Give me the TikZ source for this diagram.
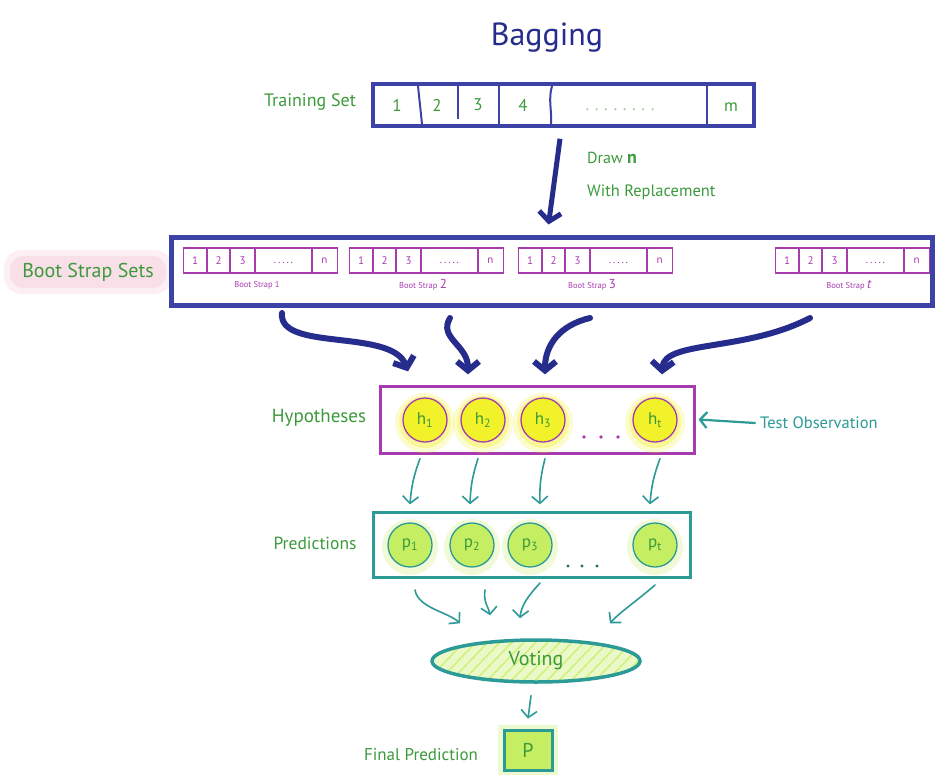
\documentclass[tikz,border=0pt]{standalone}
\usepackage{fontspec}
\setmainfont{PT Sans}
\usetikzlibrary{arrows.meta,shapes.geometric,calc}

\definecolor{navy}{HTML}{252C8C}
\definecolor{navybox}{HTML}{3D43A6}
\definecolor{leaf}{HTML}{3C9A3C}
\definecolor{plum}{HTML}{A83CAE}
\definecolor{tealc}{HTML}{2C9A96}
\definecolor{sun}{HTML}{F2F22A}
\definecolor{lime}{HTML}{C6EE62}
\definecolor{blush}{HTML}{F8CFDB}

\tikzset{
  lbl/.style={text=leaf, font=\fontsize{18}{20}\selectfont, inner sep=0pt},
  celltxt/.style={text=leaf, font=\fontsize{17}{19}\selectfont, inner sep=0pt},
  smallcell/.style={text=plum, font=\fontsize{11}{13}\selectfont, inner sep=0pt},
  strapbox/.style={draw=plum, line width=1.1pt, minimum width=154pt, minimum height=25pt, inner sep=0pt},
  straplbl/.style={text=plum, font=\fontsize{8.5}{10}\selectfont, inner sep=0pt},
  hypcirc/.style={circle, draw=plum, line width=1.3pt, fill=sun, minimum size=44pt, inner sep=0pt,
                  text=leaf, font=\fontsize{17}{19}\selectfont},
  predcirc/.style={circle, draw=tealc, line width=1.3pt, fill=lime, minimum size=44pt, inner sep=0pt,
                  text=leaf, font=\fontsize{17}{19}\selectfont},
  bigarrow/.style={draw=navy, line width=6pt, line cap=round,
                   -{Straight Barb[length=9pt,width=22pt]}},
  tarrow/.style={draw=tealc, line width=1.6pt, line cap=round,
                 -{Straight Barb[length=7pt,width=16pt]}},
}

% one bootstrap sample: box with five cells and a caption
\newcommand{\strapsample}[3]{%
  \node[strapbox, anchor=west] (#1) at (#2,260.5) {};
  \foreach \d in {24,47,72,129}
    \draw[plum, line width=1.1pt] ({#2+\d},248) -- ({#2+\d},273);
  \node[smallcell] at ({#2+12},261) {1};
  \node[smallcell] at ({#2+35.5},261) {2};
  \node[smallcell] at ({#2+59.5},261) {3};
  \node[smallcell] at ({#2+100.5},263) {.\,.\,.\,.\,.};
  \node[smallcell] at ({#2+141.5},261) {n};
  \node[straplbl] at ({#2+74},285) {#3};
}

\begin{document}
\begin{tikzpicture}[x=1pt,y=-1pt]
\path[use as bounding box, fill=white] (0,0) rectangle (936,776);

% title
\node[text=navy, font=\fontsize{32}{36}\selectfont] (title) at (547,38) {Bagging};

% training set
\node[lbl] (trainlbl) at (310,102) {Training Set};
\node[draw=navybox, line width=3.5pt, minimum width=381pt, minimum height=42pt, inner sep=0pt]
  (train) at (563.5,105) {};
\draw[navybox, line width=2pt] (418,86) -- (422,124);
\draw[navybox, line width=2pt] (458,86) -- (458,119);
\draw[navybox, line width=2pt] (499,86) -- (499,124);
\draw[navybox, line width=2pt] (552,86) .. controls (548,100) and (552,110) .. (551,124);
\draw[navybox, line width=2pt] (707,86) -- (707,124);
\node[celltxt] (c1) at (397,105) {1};
\node[celltxt] (c2) at (437,105) {2};
\node[celltxt] (c3) at (478,105) {3};
\node[celltxt] (c4) at (523,105) {4};
\node[celltxt, text=leaf!55] (cdots) at (620,110) {.\,\,.\,\,.\,\,.\,\,.\,\,.\,\,.\,\,.};
\node[celltxt] (cm) at (731,107) {m};

% draw step
\node[lbl, font=\fontsize{16}{18}\selectfont, anchor=west] (drawlbl) at (587,158) {Draw \textbf{\fontsize{18}{20}\selectfont n}};
\node[lbl, font=\fontsize{16.5}{18}\selectfont, anchor=west] (replbl) at (587,192) {With Replacement};

% bootstrap sets
\fill[blush, opacity=0.3, rounded corners=18pt] (4,250) rectangle (172,294);
\fill[blush, opacity=0.5, rounded corners=13pt] (10,256) rectangle (166,288);
\node[lbl, font=\fontsize{20}{22}\selectfont] (bootlbl) at (88,272) {Boot Strap Sets};
\node[draw=navybox, line width=5pt, minimum width=761pt, minimum height=68pt, inner sep=0pt]
  (boot) at (552,271) {};
\strapsample{s1}{183}{Boot Strap 1}
\strapsample{s2}{349}{Boot Strap \fontsize{13}{14}\selectfont 2}
\strapsample{s3}{518}{Boot Strap \fontsize{13}{14}\selectfont 3}
\strapsample{st}{775}{Boot Strap \fontsize{13}{14}\selectfont\textit{t}}

\draw[draw=navy, line width=5pt, -{Straight Barb[length=9pt,width=22pt]}]
  ([xshift=-3.5pt]train.south) ++(0,11) -- ([xshift=-3.5pt,yshift=10pt]boot.north);

% hypotheses
\node[lbl, font=\fontsize{19}{21}\selectfont] (hyplbl) at (319,418) {Hypotheses};
\node[draw=plum, line width=3pt, minimum width=314pt, minimum height=67pt, inner sep=0pt]
  (hyp) at (537,419.5) {};
\foreach \x in {425,483,543,655} {
  \fill[sun, opacity=0.22] (\x,423) circle (30);
  \fill[sun, opacity=0.35] (\x,422) circle (26);
}
\node[hypcirc] (h1) at (425,420) {h\textsubscript{1}};
\node[hypcirc] (h2) at (483,420) {h\textsubscript{2}};
\node[hypcirc] (h3) at (543,420) {h\textsubscript{3}};
\node[hypcirc] (ht) at (655,420) {h\textsubscript{t}};
\foreach \x in {584,601,618} \fill[plum] (\x,437) circle (1.8);

\node[text=tealc, font=\fontsize{16.5}{18}\selectfont, inner sep=0pt, anchor=west] (tobs) at (760,423) {Test Observation};
\draw[tarrow, line width=2.2pt] ([xshift=-5pt]tobs.west) -- ([xshift=3pt]hyp.east);

% bootstrap sets feed the hypotheses
\coordinate (b1) at (282,313);
\coordinate (b2) at (450,318);
\coordinate (b3) at (590,318);
\coordinate (b4) at (810,318);
\draw[bigarrow] (b1) .. controls (278,352) and (392,328) .. ([xshift=-17pt,yshift=26pt]h1.north);
\draw[bigarrow] (b2) .. controls (438,338) and (468,345) .. ([xshift=-15pt,yshift=23pt]h2.north);
\draw[bigarrow] (b3) .. controls (560,325) and (545,345) .. ([xshift=2pt,yshift=23pt]h3.north);
\draw[bigarrow] (b4) .. controls (745,352) and (664,340) .. ([xshift=7pt,yshift=23pt]ht.north);

% predictions
\node[lbl, font=\fontsize{17.5}{19}\selectfont] (predlbl) at (315,543) {Predictions};
\node[draw=tealc, line width=3pt, minimum width=317pt, minimum height=65pt, inner sep=0pt]
  (pred) at (531.5,544.5) {};
\foreach \x in {410,472,530,655} {
  \fill[lime, opacity=0.25] (\x,547) circle (28);
}
\node[predcirc] (p1) at (410,545) {p\textsubscript{1}};
\node[predcirc] (p2) at (472,545) {p\textsubscript{2}};
\node[predcirc] (p3) at (530,545) {p\textsubscript{3}};
\node[predcirc] (pt) at (655,545) {p\textsubscript{t}};
\foreach \x in {568,582,597} \fill[tealc!70!black] (\x,566) circle (1.6);

\draw[tarrow] ([xshift=-5pt]h1.south) ++(0,16) to[bend right=8] ([yshift=18pt]p1.north);
\draw[tarrow] ([xshift=-5pt]h2.south) ++(0,16) to[bend right=8] ([xshift=-2pt,yshift=18pt]p2.north);
\draw[tarrow] ([xshift=2pt]h3.south) ++(0,16) to[bend right=8] ([xshift=10pt,yshift=18pt]p3.north);
\draw[tarrow] ([xshift=5pt]ht.south) ++(0,16) to[bend right=8] ([xshift=-5pt,yshift=18pt]pt.north);

% voting
\begin{scope}
  \clip (536,661) ellipse [x radius=104, y radius=21];
  \fill[lime!35] (420,630) rectangle (650,690);
  \foreach \k in {0,12,...,240}
    \draw[lime, line width=1.4pt, opacity=0.8] ({420+\k},688) -- ({470+\k},636);
\end{scope}
\node[ellipse, draw=tealc, line width=3.5pt, minimum width=208pt, minimum height=42pt, inner sep=0pt,
      text=leaf, font=\fontsize{20}{22}\selectfont] (vote) at (536,661) {Voting};

\coordinate (v1) at (415,590);
\coordinate (v2) at (485,590);
\coordinate (v3) at (540,583);
\coordinate (v4) at (655,585);
\draw[tarrow] (v1) .. controls (418,608) and (448,612) .. ([xshift=-76pt,yshift=15pt]vote.north);
\draw[tarrow] (v2) .. controls (483,602) and (489,608) .. ([xshift=-46pt,yshift=23pt]vote.north);
\draw[tarrow] (v3) .. controls (528,596) and (521,606) .. ([xshift=-16pt,yshift=20pt]vote.north);
\draw[tarrow] (v4) .. controls (638,600) and (620,612) .. ([xshift=74pt,yshift=15pt]vote.north);

% final prediction
\fill[lime, opacity=0.3] (498,725) rectangle (558,775);
\node[draw=tealc, line width=3pt, fill=lime, minimum width=48pt, minimum height=40pt, inner sep=0pt,
      text=leaf, font=\fontsize{20}{22}\selectfont] (final) at (528,750) {P};
\node[lbl, font=\fontsize{17}{19}\selectfont] (finallbl) at (421,755) {Final Prediction};
\draw[tarrow] ([xshift=-5pt]vote.south) ++(0,12) -- ([yshift=10pt]final.north);

\end{tikzpicture}
\end{document}
